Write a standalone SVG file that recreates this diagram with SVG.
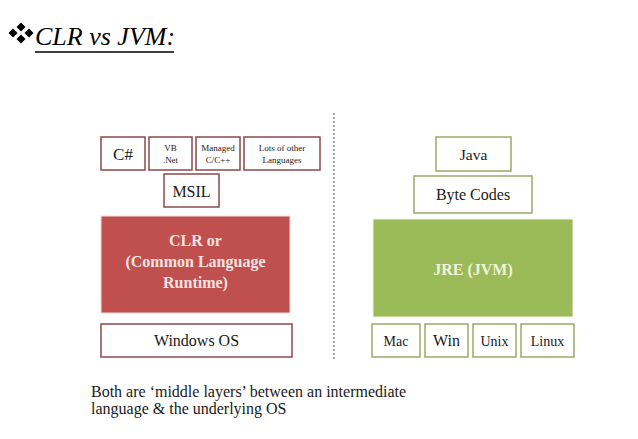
<svg xmlns="http://www.w3.org/2000/svg" width="638" height="439" viewBox="0 0 638 439">
<style>
text{font-family:'Liberation Serif','DejaVu Serif',serif;fill:#1a1a1a;text-anchor:middle}
.rb{fill:#fff;stroke:#8c4a4a;stroke-width:1.5}
.gb{fill:#fff;stroke:#9aa86a;stroke-width:1.5}
.s{font-size:9px}
.m{font-size:14px}
.l{font-size:16px}
.bw{font-size:16px;font-weight:bold}
</style>
<rect width="638" height="439" fill="#fff"/>
<g id="title">
<path d="M21 22.5l4.5 4.5-4.5 4.5-4.5-4.5zM13 28.5l4.5 4.5-4.5 4.5-4.5-4.5zM29 28.5l4.5 4.5-4.5 4.5-4.5-4.5zM21 34.5l4.5 4.5-4.5 4.5-4.5-4.5z" fill="#000"/>
<text x="35" y="45" style="font-size:26px;font-style:italic;text-anchor:start;fill:#000">CLR vs JVM:</text>
<line x1="35" y1="52" x2="174" y2="52" stroke="#000" stroke-width="1.5"/>
</g>
<g id="connectors">
<line x1="334" y1="113" x2="334" y2="360" stroke="#555" stroke-width="1" stroke-dasharray="2,2"/>
</g>
<g id="csharp"><rect class="rb" x="101" y="137" width="44" height="33"/><text x="123" y="160" style="font-size:17px">C#</text></g>
<g id="vbnet"><rect class="rb" x="149" y="137" width="43" height="33"/><text class="s" x="170.5" y="151">VB</text><text class="s" x="170.5" y="163">.Net</text></g>
<g id="managed"><rect class="rb" x="196" y="137" width="44" height="33"/><text class="s" x="218" y="151">Managed</text><text class="s" x="218" y="163">C/C++</text></g>
<g id="lots"><rect class="rb" x="244" y="137" width="76" height="33"/><text class="s" x="282" y="151">Lots of  other</text><text class="s" x="282" y="163">Languages</text></g>
<g id="msil"><rect class="rb" x="164" y="174" width="55" height="33"/><text class="l" x="191.5" y="197">MSIL</text></g>
<g id="clr"><rect x="101" y="216" width="189" height="97" fill="#c0504d" stroke="#f0e0e0" stroke-width="1"/>
<text class="bw" x="195.5" y="246" style="fill:#f5e2e2">CLR or</text>
<text class="bw" x="195.5" y="267" style="fill:#f5e2e2">(Common Language</text>
<text class="bw" x="195.5" y="288" style="fill:#f5e2e2">Runtime)</text></g>
<g id="windows"><rect class="rb" x="101" y="324" width="191" height="33"/><text class="l" x="196.5" y="346">Windows OS</text></g>
<g id="java"><rect class="gb" x="436" y="137" width="75" height="34"/><text x="473.5" y="160" style="font-size:15.5px">Java</text></g>
<g id="bytecodes"><rect class="gb" x="414" y="176" width="118" height="37"/><text class="l" x="473" y="200">Byte Codes</text></g>
<g id="jre"><rect x="373" y="219" width="200" height="98" fill="#9bbb59" stroke="#eef3e0" stroke-width="1"/><text class="bw" x="473" y="275" style="fill:#eef3dc">JRE (JVM)</text></g>
<g id="mac"><rect class="gb" x="372" y="324" width="48" height="33"/><text class="m" x="396" y="346">Mac</text></g>
<g id="win"><rect class="gb" x="425" y="324" width="43" height="33"/><text class="l" x="446.5" y="346">Win</text></g>
<g id="unix"><rect class="gb" x="473" y="324" width="43" height="33"/><text class="m" x="494.5" y="346">Unix</text></g>
<g id="linux"><rect class="gb" x="521" y="324" width="53" height="33"/><text class="m" x="547.5" y="346">Linux</text></g>
<g id="note">
<text x="91" y="397" style="font-size:16px;text-anchor:start">Both are ‘middle layers’ between an intermediate</text>
<text x="91" y="414" style="font-size:16px;text-anchor:start">language &amp; the underlying OS</text>
</g>
</svg>
